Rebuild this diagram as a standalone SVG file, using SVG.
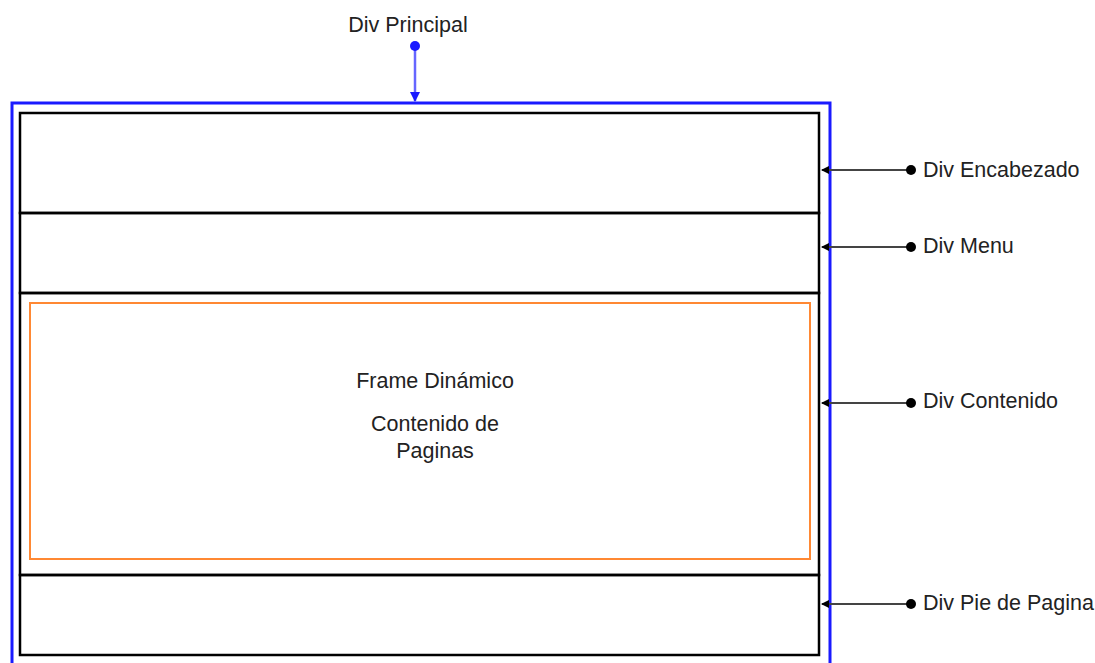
<svg xmlns="http://www.w3.org/2000/svg" width="1095" height="663" viewBox="0 0 1095 663">
<style>
.lbl{font-family:"Liberation Sans",Arial,sans-serif;font-size:21.5px;fill:#222}
.box{fill:none;stroke:#000;stroke-width:2.5}
.con{stroke:#444;stroke-width:2;fill:none}
</style>
<defs>
<marker id="ah" markerWidth="8" markerHeight="8" refX="7" refY="4" orient="auto" markerUnits="userSpaceOnUse">
<path d="M0,0 L8,4 L0,8 Z" fill="#000"/>
</marker>
<marker id="ahb" markerWidth="10" markerHeight="10" refX="9" refY="5" orient="auto" markerUnits="userSpaceOnUse">
<path d="M0,0 L10,5 L0,10 Z" fill="#1a1aff"/>
</marker>
</defs>
<rect width="1095" height="663" fill="#fff"/>
<g id="div-principal">
<path d="M12,670 V103 H830 V670" fill="none" stroke="#1a1aff" stroke-width="3"/>
<text class="lbl" x="408" y="32" text-anchor="middle">Div Principal</text>
</g>
<g id="div-encabezado">
<rect class="box" x="20" y="113" width="799" height="100"/>
<text class="lbl" x="923" y="177">Div Encabezado</text>
</g>
<g id="div-menu">
<rect class="box" x="20" y="213" width="799" height="80"/>
<text class="lbl" x="923" y="253">Div Menu</text>
</g>
<g id="div-contenido">
<rect class="box" x="20" y="293" width="799" height="282"/>
<text class="lbl" x="923" y="408">Div Contenido</text>
</g>
<g id="frame-dinamico">
<rect x="30" y="303" width="780" height="256" fill="none" stroke="#ff8833" stroke-width="2"/>
<text class="lbl" x="435" y="388" text-anchor="middle">Frame Dinámico</text>
<text class="lbl" x="435" y="431" text-anchor="middle">Contenido de</text>
<text class="lbl" x="435" y="458" text-anchor="middle">Paginas</text>
</g>
<g id="div-pie">
<rect class="box" x="20" y="575" width="799" height="80"/>
<text class="lbl" x="923" y="610">Div Pie de Pagina</text>
</g>
<g id="connectors">
<line x1="415" y1="46" x2="415" y2="101" stroke="#6666ff" stroke-width="2.5" marker-end="url(#ahb)"/>
<circle cx="415" cy="46" r="5" fill="#1a1aff"/>
<line class="con" x1="910" y1="170" x2="822" y2="170" marker-end="url(#ah)"/>
<circle cx="911" cy="170" r="5" fill="#000"/>
<line class="con" x1="910" y1="247" x2="822" y2="247" marker-end="url(#ah)"/>
<circle cx="911" cy="247" r="5" fill="#000"/>
<line class="con" x1="910" y1="403" x2="822" y2="403" marker-end="url(#ah)"/>
<circle cx="911" cy="403" r="5" fill="#000"/>
<line class="con" x1="910" y1="604" x2="822" y2="604" marker-end="url(#ah)"/>
<circle cx="911" cy="604" r="5" fill="#000"/>
</g>
</svg>
